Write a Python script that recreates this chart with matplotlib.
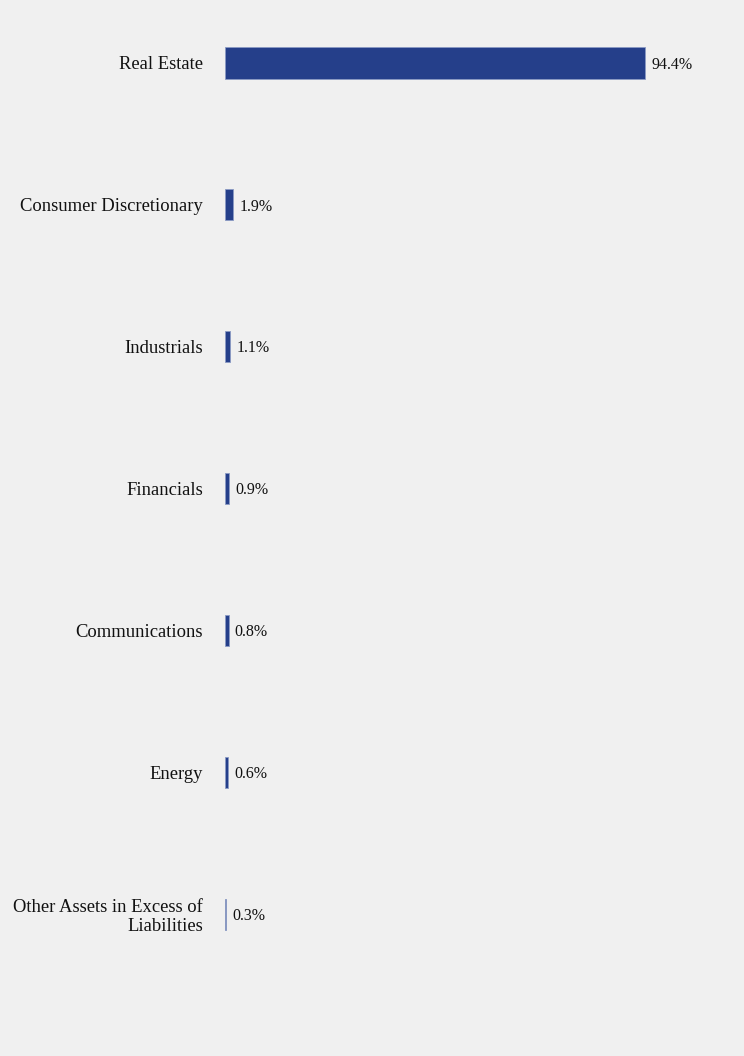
import matplotlib
matplotlib.use("Agg")
import matplotlib.pyplot as plt

sectors = ["Real Estate", "Consumer Discretionary", "Industrials", "Financials",
           "Communications", "Energy", "Other Assets in Excess of\nLiabilities"]
weights = [94.4, 1.9, 1.1, 0.9, 0.8, 0.6, 0.3]
value_labels = ["94.4%", "1.9%", "1.1%", "0.9%", "0.8%", "0.6%", "0.3%"]

bg = "#f0f0f0"
bar_color = "#253f8a"

plt.rcParams['font.family'] = ['Liberation Serif', 'DejaVu Serif']

fig = plt.figure(figsize=(7.44, 10.56), dpi=100, facecolor=bg)
# axes starts where the bars start, one unit of x is 4.45 px
ax = fig.add_axes([225 / 744, 0, 445 / 744, 1])
ax.set_facecolor(bg)

ypos = list(range(len(sectors)))
ax.barh(ypos, weights, height=0.22, color=bar_color, edgecolor="#8a9ac4", linewidth=0.6)

for y, w, lab in zip(ypos, weights, value_labels):
    ax.annotate(lab, (w, y), xytext=(4.5, -1.2), textcoords="offset points",
                va="center", ha="left", fontsize=11.5, color="#111111")

ax.set_xlim(0, 100)
ax.set_ylim(7.0, -0.444)
ax.set_yticks(ypos)
ax.set_yticklabels(sectors, fontsize=13.4, color="#111111", ha="right",
                   linespacing=1.12)
for t in ax.get_yticklabels():
    t.set_y(t.get_position()[1])
ax.tick_params(axis="y", length=0, pad=16)
ax.set_xticks([])
for s in ax.spines.values():
    s.set_visible(False)

fig.savefig("out.png", dpi=100, facecolor=bg)
